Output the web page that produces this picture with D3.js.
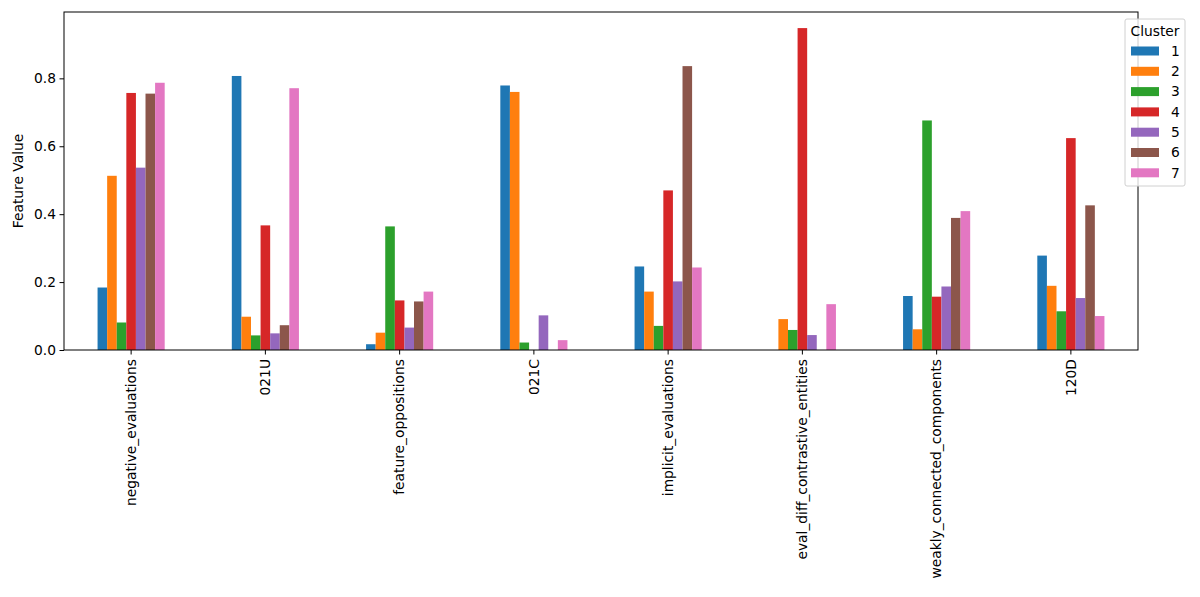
<!DOCTYPE html>
<html>
<head>
<meta charset="utf-8">
<script src="https://cdn.jsdelivr.net/npm/d3@7"></script>
<style>
  body { margin: 0; background: #fff; }
  svg { font-family: "DejaVu Sans", sans-serif; }
</style>
</head>
<body>
<svg id="chart" width="1200" height="597"></svg>
<script>
// Feature values per cluster, grouped bars
const features = ['negative_evaluations', '021U', 'feature_oppositions', '021C',
  'implicit_evaluations', 'eval_diff_contrastive_entities', 'weakly_connected_components', '120D'];
const clusters = ['1', '2', '3', '4', '5', '6', '7'];
const colors = ['#1f77b4', '#ff7f0e', '#2ca02c', '#d62728', '#9467bd', '#8c564b', '#e377c2'];

// one array per cluster, in feature order
const cluster1 = [0.184, 0.807, 0.017, 0.779, 0.246, 0.000, 0.159, 0.278];
const cluster2 = [0.513, 0.098, 0.051, 0.760, 0.172, 0.091, 0.061, 0.189];
const cluster3 = [0.081, 0.043, 0.364, 0.022, 0.071, 0.059, 0.676, 0.114];
const cluster4 = [0.757, 0.367, 0.146, 0.000, 0.470, 0.948, 0.157, 0.624];
const cluster5 = [0.537, 0.049, 0.066, 0.102, 0.202, 0.044, 0.187, 0.153];
const cluster6 = [0.755, 0.073, 0.143, 0.000, 0.836, 0.000, 0.389, 0.426];
const cluster7 = [0.787, 0.771, 0.172, 0.029, 0.243, 0.135, 0.409, 0.100];
const seriesValues = [cluster1, cluster2, cluster3, cluster4, cluster5, cluster6, cluster7];

const yTicks = [0.0, 0.2, 0.4, 0.6, 0.8];

const fontSize = '13.8px';
const margin = {left: 64, right: 1138, top: 12, bottom: 350};
const svg = d3.select('#chart');

const x = d3.scaleBand()
  .domain(features)
  .range([margin.left, margin.right])
  .padding(0);

const xInner = d3.scaleBand()
  .domain(clusters)
  .range([x.bandwidth() * 0.25, x.bandwidth() * 0.75])
  .padding(0);

const yMax = d3.max(seriesValues, s => d3.max(s)) * 1.05;
const y = d3.scaleLinear()
  .domain([0, yMax])
  .range([margin.bottom, margin.top]);

// bars
const groups = svg.append('g')
  .selectAll('g')
  .data(features)
  .enter()
  .append('g')
  .attr('transform', d => `translate(${x(d)},0)`);

groups.selectAll('rect')
  .data((f, fi) => clusters.map((c, ci) => ({cluster: c, ci: ci, value: seriesValues[ci][fi]})))
  .enter()
  .append('rect')
  .attr('x', d => xInner(d.cluster))
  .attr('width', xInner.bandwidth())
  .attr('y', d => y(d.value))
  .attr('height', d => y(0) - y(d.value))
  .attr('fill', d => colors[d.ci]);

// axes
const xAxis = svg.append('g')
  .attr('transform', `translate(0,${margin.bottom})`)
  .call(d3.axisBottom(x).tickSizeOuter(0).tickSize(4.5));
xAxis.select('.domain').remove();
xAxis.selectAll('text')
  .attr('transform', 'rotate(-90)')
  .attr('text-anchor', 'end')
  .attr('x', -9)
  .attr('y', 0)
  .attr('dy', '0.35em')
  .style('font-size', fontSize)
  .style('font-family', '"DejaVu Sans", sans-serif')
  .attr('fill', '#000');

const yAxis = svg.append('g')
  .attr('transform', `translate(${margin.left},0)`)
  .call(d3.axisLeft(y).tickValues(yTicks).tickFormat(d3.format('.1f')).tickSize(4.5).tickSizeOuter(0));
yAxis.select('.domain').remove();
yAxis.selectAll('text')
  .attr('x', -8)
  .style('font-size', fontSize)
  .style('font-family', '"DejaVu Sans", sans-serif')
  .attr('fill', '#000');

// frame
svg.append('rect')
  .attr('x', margin.left)
  .attr('y', margin.top)
  .attr('width', margin.right - margin.left)
  .attr('height', margin.bottom - margin.top)
  .attr('fill', 'none')
  .attr('stroke', '#000')
  .attr('stroke-width', 1);

// y label
svg.append('text')
  .attr('transform', `translate(23,${(margin.top + margin.bottom) / 2}) rotate(-90)`)
  .attr('text-anchor', 'middle')
  .style('font-size', fontSize)
  .text('Feature Value');

// legend
const legend = svg.append('g').attr('transform', 'translate(1125,19)');
legend.append('rect')
  .attr('width', 60)
  .attr('height', 167)
  .attr('rx', 2)
  .attr('fill', 'rgba(255,255,255,0.8)')
  .attr('stroke', '#d0d0d0');
legend.append('text')
  .attr('x', 30)
  .attr('y', 17)
  .attr('text-anchor', 'middle')
  .style('font-size', fontSize)
  .text('Cluster');
clusters.forEach((c, i) => {
  const row = legend.append('g').attr('transform', `translate(6,${32 + i * 20.3})`);
  row.append('rect')
    .attr('x', 0)
    .attr('y', -4.5)
    .attr('width', 28)
    .attr('height', 9)
    .attr('fill', colors[i]);
  row.append('text')
    .attr('x', 40)
    .attr('dy', '0.35em')
    .style('font-size', fontSize)
    .text(c);
});
</script>
</body>
</html>
